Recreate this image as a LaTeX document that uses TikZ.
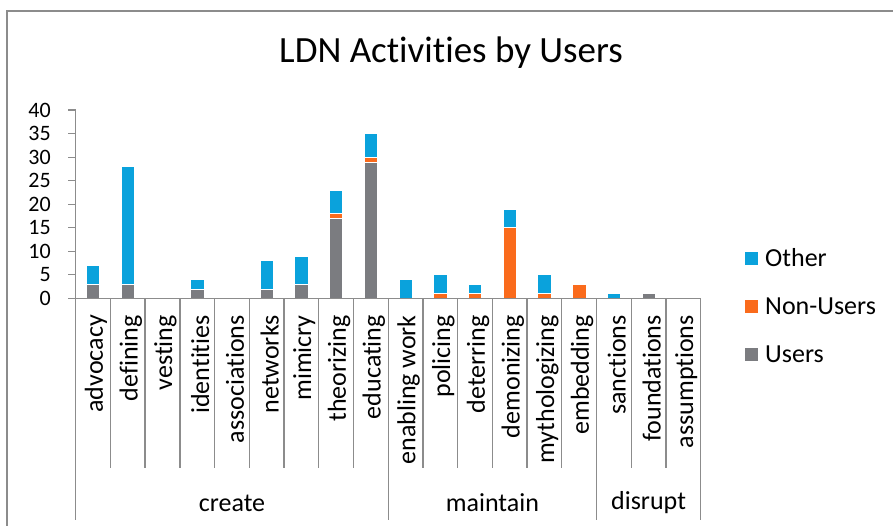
\documentclass[tikz,border=0pt]{standalone}
\usepackage{fontspec}
\setmainfont{Carlito}[Ligatures={NoCommon}]
\definecolor{otherblue}{HTML}{0AA2DC}
\definecolor{nonorange}{HTML}{FA6B1C}
\definecolor{usergrey}{HTML}{7B7C80}
\definecolor{axisgrey}{HTML}{8C8C8C}
\tikzset{seg/.style= {draw=white, line width=0.6pt},
         axis/.style= {draw=axisgrey, line width=1.3pt},
         catlabel/.style= {rotate=90, anchor=east, inner sep=0pt, font=\fontsize{26}{26}\selectfont},
         txt/.style= {inner sep=0pt, font=\fontsize{26}{26}\selectfont},
         ticklabel/.style= {inner sep=0pt, anchor=east, font=\fontsize{22}{22}\selectfont}}

\begin{document}
\begin{tikzpicture}[x=1pt,y=-1pt]
        \useasboundingbox (0,0) rectangle (893,525);
        \draw[axisgrey, line width=1.5pt](7,530)--(7,11)--(900,11);

        \node[font=\fontsize{37}{37}\selectfont](title)at(451,53){LDN Activities by Users};

        \foreach \k/\lab/\u/\n/\o in {1/advocacy/3/0/4, 2/defining/3/0/25, 3/vesting/0/0/0, 4/identities/2/0/2,
            5/associations/0/0/0, 6/networks/2/0/6, 7/mimicry/3/0/6, 8/theorizing/17/1/5, 9/educating/29/1/5,
            10/enabling work/0/0/4, 11/policing/0/1/4, 12/deterring/0/1/2, 13/demonizing/0/15/4,
            14/mythologizing/0/1/4, 15/embedding/0/3/0, 16/sanctions/0/0/1, 17/foundations/1/0/0, 18/assumptions/0/0/0}{
            \pgfmathsetmacro\cx{75.7+(\k-0.5)*34.72}
            \pgfmathsetmacro\ya{298.3-4.705*\u}
            \pgfmathsetmacro\yb{\ya-4.705*\n}
            \pgfmathsetmacro\yc{\yb-4.705*\o}
            \ifnum\u>0 \draw[seg,fill=usergrey](\cx-6.65,298.3)rectangle(\cx+6.65,\ya);\fi
            \ifnum\n>0 \draw[seg,fill=nonorange](\cx-6.65,\ya)rectangle(\cx+6.65,\yb);\fi
            \ifnum\o>0 \draw[seg,fill=otherblue](\cx-6.65,\yb)rectangle(\cx+6.65,\yc);\fi
            \node[catlabel](cat\k)at(\cx+3,315){\lab};
            \draw[axis](75.7+\k*34.72,298.3)--(75.7+\k*34.72,468);
        }

        \draw[axis](75.7,110)--(75.7,520);
        \draw[axis](75.7,298.3)--(700.7,298.3);
        \draw[axis](388.2,298.3)--(388.2,520);
        \draw[axis](596.5,298.3)--(596.5,520);
        \draw[axis](700.7,298.3)--(700.7,520);

        \foreach \v in {0,5,...,40}{
            \draw[axis](68,298.3-4.705*\v)--(75.7,298.3-4.705*\v);
            \node[ticklabel](tick\v)at(51,298.3-4.705*\v){\v};
        }

        \node[txt](create)at(232,503){create};
        \node[txt](maintain)at(492.4,503){maintain};
        \node[txt](disrupt)at(648.6,503){disrupt};

        \fill[otherblue](745,251.5)rectangle(758,264.5);
        \node[txt,anchor=west](other)at(765,258){Other};
        \fill[nonorange](745,299.5)rectangle(758,312.5);
        \node[txt,anchor=west](nonusers)at(765,306){Non-Users};
        \fill[usergrey](745,347.5)rectangle(758,360.5);
        \node[txt,anchor=west](users)at(765,354){Users};
    \end{tikzpicture}
\end{document}
